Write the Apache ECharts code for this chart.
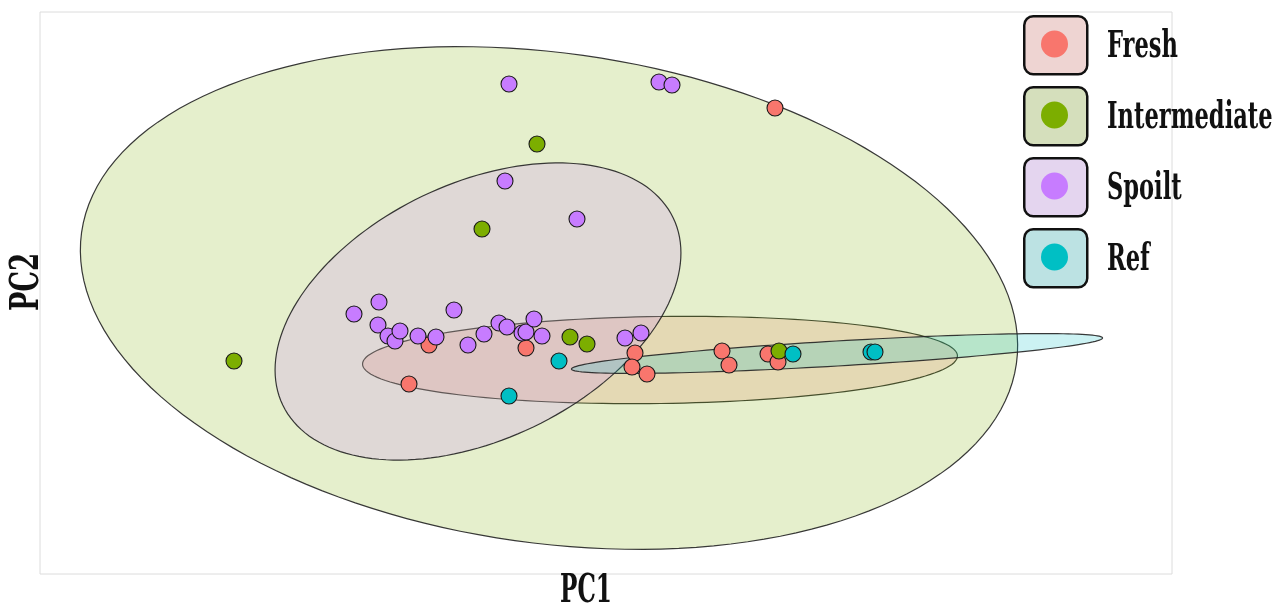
<!DOCTYPE html>
<html>
<head>
<meta charset="utf-8">
<script src="https://cdn.jsdelivr.net/npm/echarts@6/dist/echarts.min.js"></script>
<style>
html,body{margin:0;padding:0;background:#fff;}
#main{width:1280px;height:605px;}
</style>
</head>
<body>
<div id="main"></div>
<script>
// Groups and colours
const categories = ['Fresh', 'Intermediate', 'Spoilt', 'Ref'];
const groupColors = ['#F8766D', '#7CAE00', '#C77CFF', '#00BFC4'];

// PCA scores [PC1, PC2] (arbitrary units)
const freshScores = [
  [2.35, 2.16], [-1.11, -0.21], [-1.31, -0.60], [-0.14, -0.24], [0.95, -0.29],
  [0.92, -0.43], [1.07, -0.50], [1.82, -0.27], [1.89, -0.41], [2.28, -0.30], [2.38, -0.38]
];
const intermediateScores = [
  [-0.03, 1.80], [-0.58, 0.95], [-3.06, -0.37], [0.30, -0.13], [0.47, -0.20], [2.39, -0.27]
];
const spoiltScores = [
  [-0.31, 2.40], [1.19, 2.42], [1.32, 2.39], [-0.35, 1.43], [0.37, 1.05],
  [-1.86, 0.10], [-1.61, 0.22], [-1.62, -0.01], [-1.52, -0.12], [-1.45, -0.17],
  [-1.40, -0.07], [-1.22, -0.12], [-1.04, -0.13], [-0.86, 0.14], [-0.72, -0.21],
  [-0.56, -0.10], [-0.41, 0.01], [-0.33, -0.03], [-0.18, -0.09], [-0.14, -0.08],
  [-0.06, 0.05], [0.02, -0.12], [0.85, -0.14], [1.01, -0.09]
];
const refScores = [
  [0.19, -0.37], [-0.31, -0.72], [2.53, -0.30], [3.31, -0.28], [3.35, -0.28]
];
const groupScores = [freshScores, intermediateScores, spoiltScores, refScores];

// Confidence ellipse parameters per group (same order as categories)
const ellipseCenterX = [1.20, 0.09, -0.62, 2.97];
const ellipseCenterY = [-0.36, 0.26, 0.125, -0.295];
const ellipseSemiMajor = [2.975, 4.72, 2.165, 2.66];
const ellipseSemiMinor = [0.435, 2.45, 1.28, 0.125];
const ellipseAngleDeg = [0.8, -8, 25.6, 3.35];

// Axis titles
const xTitle = 'PC1';
const yTitle = 'PC2';

function rgba(hex, a) {
  const n = parseInt(hex.slice(1), 16);
  return 'rgba(' + ((n >> 16) & 255) + ',' + ((n >> 8) & 255) + ',' + (n & 255) + ',' + a + ')';
}

const TITLE_FONT = '"DejaVu Serif Condensed", "DejaVu Serif", serif';
const SCALE_X = 0.66;

const chart = echarts.init(document.getElementById('main'), null, {renderer: 'canvas'});

const ellipseSeries = categories.map((name, i) => ({
  type: 'custom',
  name: name + ' ellipse',
  silent: true,
  z: 1,
  data: [[ellipseCenterX[i], ellipseCenterY[i], ellipseSemiMajor[i], ellipseSemiMinor[i], ellipseAngleDeg[i]]],
  encode: {x: 0, y: 1},
  renderItem: function (params, api) {
    const cx = api.value(0), cy = api.value(1), a = api.value(2), b = api.value(3);
    const t = api.value(4) * Math.PI / 180;
    const pts = [];
    const N = 160;
    for (let k = 0; k < N; k++) {
      const u = 2 * Math.PI * k / N;
      const dx = a * Math.cos(u), dy = b * Math.sin(u);
      pts.push(api.coord([cx + dx * Math.cos(t) - dy * Math.sin(t), cy + dx * Math.sin(t) + dy * Math.cos(t)]));
    }
    return {
      type: 'polygon',
      shape: {points: pts},
      style: {fill: rgba(groupColors[i], 0.2), stroke: 'rgba(35,35,35,0.9)', lineWidth: 1.2}
    };
  }
}));

const pointSeries = categories.map((name, i) => ({
  type: 'scatter',
  name: name,
  z: 3,
  symbol: 'circle',
  symbolSize: 16,
  data: groupScores[i],
  itemStyle: {color: groupColors[i], borderColor: '#1a1a1a', borderWidth: 1.1, opacity: 1}
}));

// Legend drawn as graphic elements
const legendGraphics = [];
categories.forEach((name, i) => {
  const top = 15 + 71 * i;
  legendGraphics.push({
    type: 'rect', left: 1023, top: top, z: 10,
    shape: {width: 63, height: 58, r: 9},
    style: {fill: '#ebebeb', stroke: null}
  });
  legendGraphics.push({
    type: 'rect', left: 1023, top: top, z: 11,
    shape: {width: 63, height: 58, r: 9},
    style: {fill: rgba(groupColors[i], 0.2), stroke: '#111', lineWidth: 2.5}
  });
  legendGraphics.push({
    type: 'circle', z: 12,
    shape: {cx: 1054.5, cy: top + 29, r: 13.5},
    style: {fill: groupColors[i]}
  });
  legendGraphics.push({
    type: 'text', x: 1107, y: top + 32, z: 12, scaleX: SCALE_X,
    style: {text: name, font: 'bold 38px ' + TITLE_FONT, fill: '#111', textAlign: 'left', textVerticalAlign: 'middle'}
  });
});
legendGraphics.push({
  type: 'text', x: 586, y: 592, z: 12, scaleX: SCALE_X,
  style: {text: xTitle, font: 'bold 39px ' + TITLE_FONT, fill: '#111', textAlign: 'center', textVerticalAlign: 'middle'}
});
legendGraphics.push({
  type: 'text', x: 28, y: 282, z: 12, scaleX: 0.72, rotation: Math.PI / 2,
  style: {text: yTitle, font: 'bold 40px ' + TITLE_FONT, fill: '#111', textAlign: 'center', textVerticalAlign: 'middle'}
});

const option = {
  animation: false,
  backgroundColor: '#ffffff',
  grid: {left: 40, right: 108, top: 12, bottom: 31, show: true, borderColor: '#dcdcdc', borderWidth: 1, backgroundColor: 'transparent'},
  xAxis: {
    type: 'value', min: -5, max: 6.32,
    axisLine: {show: false}, axisTick: {show: false}, axisLabel: {show: false}, splitLine: {show: false}
  },
  yAxis: {
    type: 'value', min: -2.5, max: 3.12,
    axisLine: {show: false}, axisTick: {show: false}, axisLabel: {show: false}, splitLine: {show: false}
  },
  graphic: legendGraphics,
  series: ellipseSeries.concat(pointSeries)
};
chart.setOption(option);
</script>
</body>
</html>
